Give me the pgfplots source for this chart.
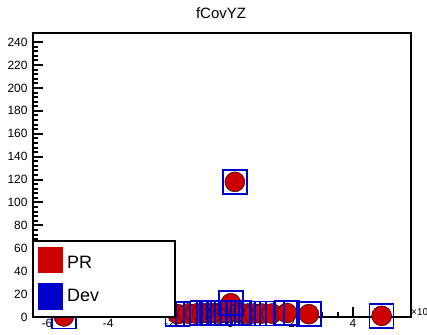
\documentclass[border=0pt]{standalone}
\usepackage{pgfplots}
\pgfplotsset{compat=1.18}
\usepackage{pgfplotstable}
\usepackage{fontspec}
\setmainfont{Liberation Sans}
\definecolor{rootred}{RGB}{204,0,0}
\definecolor{rootblue}{RGB}{0,0,204}
\pgfplotstableread{
x y
-5.45 0.5
-1.73 2.5
-1.40 3
-1.14 3
-0.92 3.5
-0.71 3
-0.55 3.5
-0.39 3
-0.25 4
-0.12 3.5
0.01 12
0.14 118
0.27 3.5
0.40 3
0.56 3
0.76 3
1.02 3
1.35 3
1.84 3.5
2.56 2.5
4.94 1
}\datatable
\begin{document}
\begin{tikzpicture}
\useasboundingbox (0bp,0bp) rectangle (427bp,335bp);
\begin{axis}[
  at={(33bp,18bp)}, anchor=south west,
  scale only axis, width=378bp, height=284bp,
  xmin=-6.46, xmax=5.9, ymin=0, ymax=248,
  clip=false,
  axis line style={line width=2.4bp},
  xtick={-6,-4,...,4}, ytick={0,20,...,240},
  minor x tick num=3, minor y tick num=4,
  tick align=inside, tick pos=left,
  major tick length=10bp, minor tick length=5bp,
  every tick/.style={line width=2bp, black},
  tick label style={font=\fontsize{12}{12}\selectfont},
  yticklabel style={xshift=-2bp},
  xticklabel style={yshift=1bp},
  /pgf/number format/assume math mode=true,
]
\addplot[only marks, mark=*, mark size=10bp, mark options={fill=rootred, draw=none}] table {\datatable};
\addplot[only marks, mark=square, mark size=12bp, mark options={draw=rootblue, line width=1.6bp, fill=none}] table {\datatable};
\end{axis}
\node[font=\fontsize{15}{15}\selectfont] at (221bp,322bp) {fCovYZ};
\node[anchor=west, inner sep=0pt, font=\fontsize{10}{10}\selectfont] at (411bp,23bp) {×10};
\filldraw[fill=white, draw=black, line width=2bp] (33bp,18bp) rectangle (175bp,94bp);
\fill[rootred] (38bp,62bp) rectangle (63bp,88bp);
\fill[rootblue] (38bp,25bp) rectangle (63bp,52bp);
\node[anchor=west, inner sep=0pt, font=\fontsize{18}{18}\selectfont] at (67bp,73bp) {PR};
\node[anchor=west, inner sep=0pt, font=\fontsize{18}{18}\selectfont] at (67bp,40bp) {Dev};
\end{tikzpicture}
\end{document}
